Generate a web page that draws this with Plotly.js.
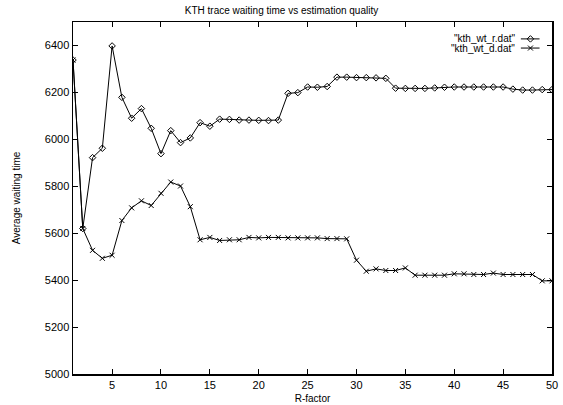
<!DOCTYPE html>
<html>
<head>
<meta charset="utf-8">
<script src="https://cdn.plot.ly/plotly-3.0.1.min.js"></script>
<style>html,body{margin:0;padding:0;background:#fff;}#chart{width:563px;height:405px;}</style>
</head>
<body>
<div id="chart"></div>
<script>
// R-factor values
const rFactor = [1,2,3,4,5,6,7,8,9,10,11,12,13,14,15,16,17,18,19,20,21,22,23,24,25,26,27,28,29,30,31,32,33,34,35,36,37,38,39,40,41,42,43,44,45,46,47,48,49,50];
// "kth_wt_r.dat"
const waitR = [6338,5620,5922,5962,6398,6179,6090,6131,6047,5939,6037,5986,6006,6071,6056,6086,6085,6082,6082,6081,6080,6082,6196,6199,6223,6222,6225,6265,6265,6263,6263,6262,6260,6218,6217,6217,6217,6219,6222,6223,6223,6223,6223,6223,6223,6214,6210,6210,6212,6212];
// "kth_wt_d.dat"
const waitD = [6338,5620,5527,5493,5506,5654,5708,5738,5718,5770,5818,5801,5713,5572,5582,5569,5572,5572,5582,5580,5582,5582,5580,5580,5580,5580,5577,5577,5576,5485,5438,5448,5441,5441,5452,5421,5421,5421,5421,5427,5427,5424,5424,5430,5424,5424,5424,5424,5397,5397];
const seriesNames = ['"kth_wt_r.dat"', '"kth_wt_d.dat"'];
const xTicks = [5,10,15,20,25,30,35,40,45,50];
const yTicks = [5000,5200,5400,5600,5800,6000,6200,6400];

const font = 'Liberation Sans, Arial, Helvetica, sans-serif';
const mk = 5;

const traces = [
  {x: rFactor, y: waitR, mode: 'lines+markers', name: seriesNames[0], showlegend: false,
   line: {color: '#000', width: 1}, marker: {symbol: 'diamond-open', size: mk, color: '#000', line: {width: 1}}},
  {x: rFactor, y: waitD, mode: 'lines+markers', name: seriesNames[1], showlegend: false,
   line: {color: '#000', width: 1}, marker: {symbol: 'x-thin-open', size: mk, color: '#000', line: {width: 1}}},
  // legend samples (drawn on a hidden overlay axis)
  {x: [0.935, 0.955, 0.974], y: [0.952, 0.952, 0.952], xaxis: 'x2', yaxis: 'y2', mode: 'lines', showlegend: false, hoverinfo: 'skip',
   line: {color: '#000', width: 1}},
  {x: [0.955], y: [0.952], xaxis: 'x2', yaxis: 'y2', mode: 'markers', showlegend: false, hoverinfo: 'skip',
   marker: {symbol: 'diamond-open', size: mk, color: '#000', line: {width: 1}}},
  {x: [0.935, 0.974], y: [0.926, 0.926], xaxis: 'x2', yaxis: 'y2', mode: 'lines', showlegend: false, hoverinfo: 'skip',
   line: {color: '#000', width: 1}},
  {x: [0.955], y: [0.926], xaxis: 'x2', yaxis: 'y2', mode: 'markers', showlegend: false, hoverinfo: 'skip',
   marker: {symbol: 'x-thin-open', size: mk, color: '#000', line: {width: 1}}}
];

const axisCommon = {
  showgrid: false, zeroline: false, showline: true, linecolor: '#000', linewidth: 1.5,
  ticks: 'inside', ticklen: 5, tickwidth: 1, tickcolor: '#000', mirror: 'ticks',
  tickfont: {family: font, size: 11, color: '#000'}
};

const layout = {
  width: 563, height: 405,
  margin: {l: 72.5, r: 10.5, t: 22.3, b: 30.7, pad: 0},
  paper_bgcolor: '#fff', plot_bgcolor: '#fff',
  showlegend: false,
  title: {text: 'KTH trace waiting time vs estimation quality', font: {family: font, size: 10, color: '#000'},
          x: 0.5, xref: 'container', y: 0.975, yref: 'container', yanchor: 'middle'},
  xaxis: Object.assign({}, axisCommon, {range: [1, 50], tickmode: 'array', tickvals: xTicks,
          title: {text: 'R-factor', font: {family: font, size: 10, color: '#000'}, standoff: 5}}),
  yaxis: Object.assign({}, axisCommon, {range: [5000, 6500], tickmode: 'array', tickvals: yTicks,
          title: {text: 'Average waiting time', font: {family: font, size: 10, color: '#000'}, standoff: 22}}),
  xaxis2: {overlaying: 'x', range: [0, 1], visible: false, fixedrange: true},
  yaxis2: {overlaying: 'y', range: [0, 1], visible: false, fixedrange: true},
  annotations: [
    {text: seriesNames[0], xref: 'paper', yref: 'paper', x: 0.926, y: 0.952, xanchor: 'right', yanchor: 'middle',
     showarrow: false, font: {family: font, size: 10, color: '#000'}},
    {text: seriesNames[1], xref: 'paper', yref: 'paper', x: 0.926, y: 0.926, xanchor: 'right', yanchor: 'middle',
     showarrow: false, font: {family: font, size: 10, color: '#000'}}
  ]
};

Plotly.newPlot('chart', traces, layout, {displayModeBar: false, staticPlot: true});
</script>
</body>
</html>
